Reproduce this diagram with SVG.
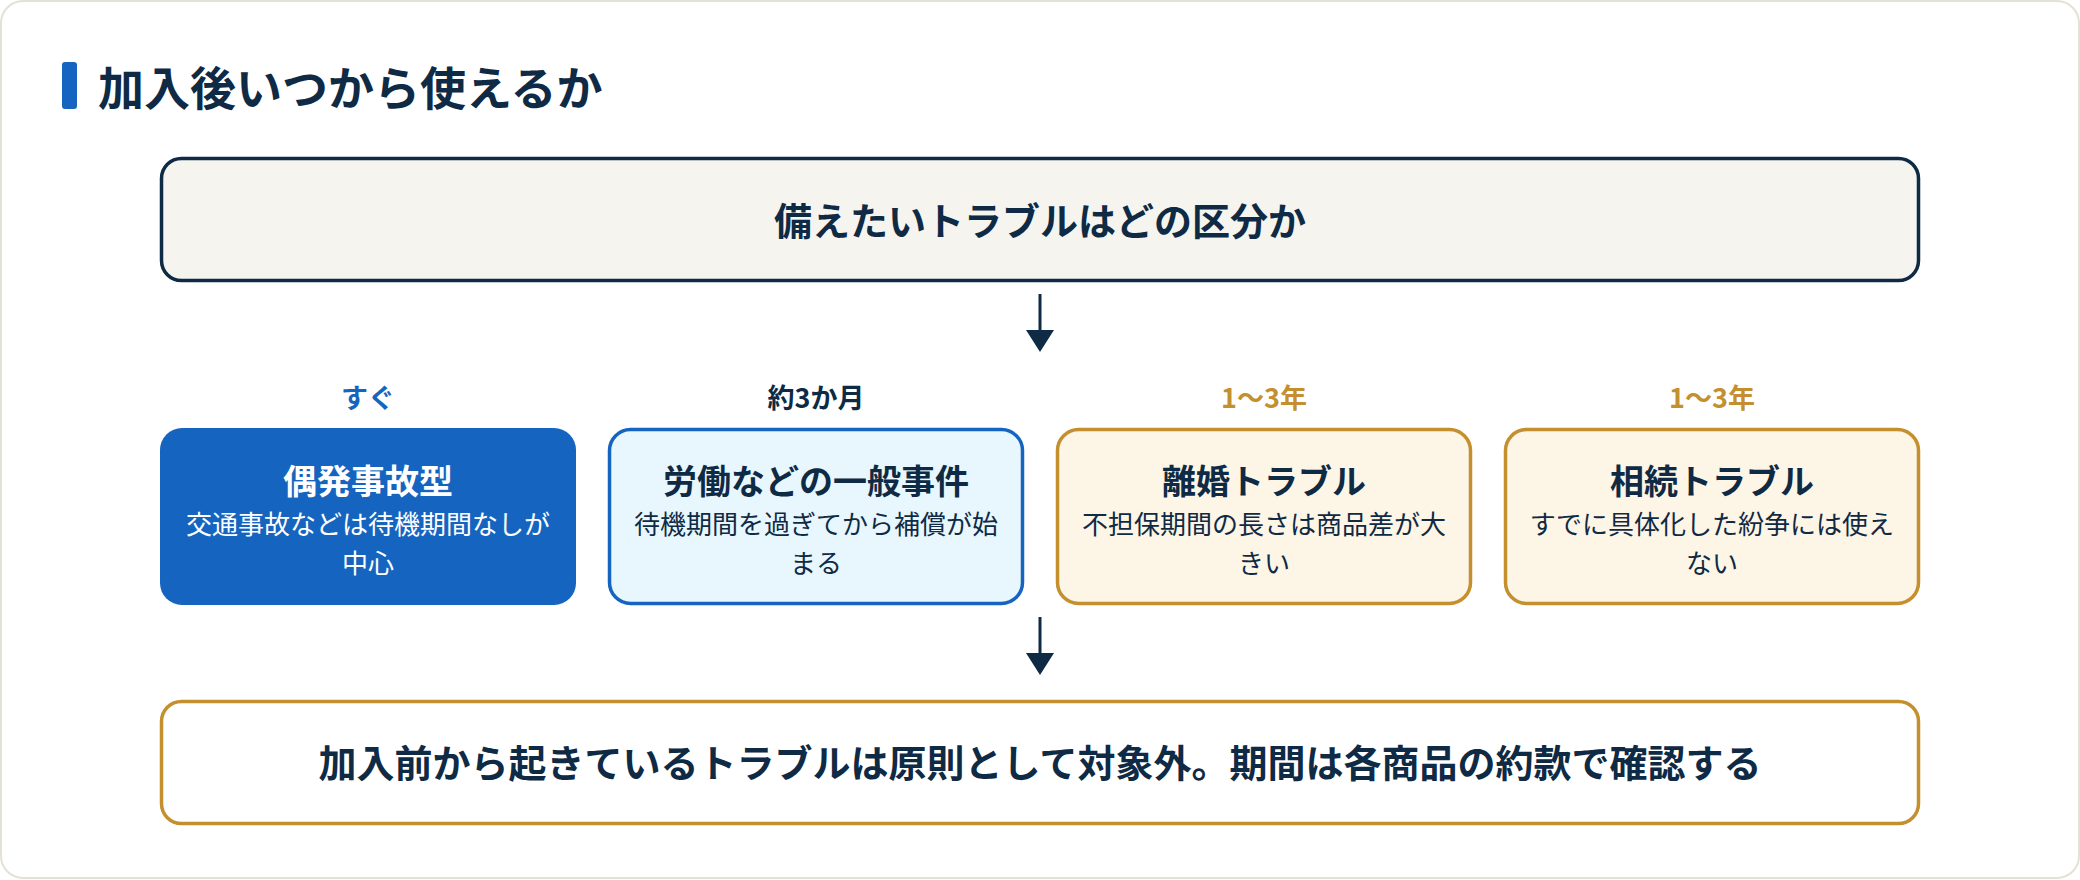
<svg xmlns="http://www.w3.org/2000/svg" width="2080" height="880" viewBox="0 0 2080 880">
<style>
.t{font-family:"Noto Sans CJK JP","Noto Sans",sans-serif;text-anchor:middle;}
.b{font-weight:700;}
.navy{fill:#0f2a44;}
.h{font-size:34px;font-weight:700;}
.s{font-size:26px;font-weight:400;}
.lab{font-size:27px;font-weight:700;}
.gold{fill:#c4902f;}
.card{stroke-width:3.5;}
</style>
<rect x="1" y="1" width="2078" height="877" rx="22" fill="#ffffff" stroke="#e4e1d5" stroke-width="2"/>
<g id="title">
<rect x="62" y="62" width="15" height="47" rx="3" fill="#1565c0"/>
<text class="t b navy" x="98" y="105" font-size="46" style="text-anchor:start">加入後いつから使えるか</text>
</g>
<g id="question">
<rect class="card" x="161.5" y="158.5" width="1757" height="122" rx="20" fill="#f5f4ef" stroke="#0f2a44"/>
<text class="t b navy" x="1040" y="235" font-size="38">備えたいトラブルはどの区分か</text>
</g>
<g id="connectors" fill="#0f2a44" stroke="#0f2a44">
<line x1="1040" y1="294" x2="1040" y2="332" stroke-width="3"/>
<polygon points="1026,330 1054,330 1040,352" stroke="none"/>
<line x1="1040" y1="617" x2="1040" y2="655" stroke-width="3"/>
<polygon points="1026,653 1054,653 1040,675" stroke="none"/>
</g>
<g id="n1">
<text class="t lab" x="368" y="408" fill="#1565c0">すぐ</text>
<rect x="160" y="428" width="416" height="177" rx="22" fill="#1565c0"/>
<text class="t h" x="368" y="494" fill="#ffffff">偶発事故型</text>
<text class="t s" x="368" y="534" fill="#ffffff">交通事故などは待機期間なしが</text>
<text class="t s" x="368" y="573" fill="#ffffff">中心</text>
</g>
<g id="n2">
<text class="t lab navy" x="816" y="408">約3か月</text>
<rect class="card" x="609.5" y="429.5" width="413" height="174" rx="21" fill="#e8f6fd" stroke="#1565c0"/>
<text class="t h navy" x="816" y="494">労働などの一般事件</text>
<text class="t s navy" x="816" y="534">待機期間を過ぎてから補償が始</text>
<text class="t s navy" x="816" y="573">まる</text>
</g>
<g id="n3">
<text class="t lab gold" x="1264" y="408">1〜3年</text>
<rect class="card" x="1057.5" y="429.5" width="413" height="174" rx="21" fill="#fdf5e6" stroke="#c4902f"/>
<text class="t h navy" x="1264" y="494">離婚トラブル</text>
<text class="t s navy" x="1264" y="534">不担保期間の長さは商品差が大</text>
<text class="t s navy" x="1264" y="573">きい</text>
</g>
<g id="n4">
<text class="t lab gold" x="1712" y="408">1〜3年</text>
<rect class="card" x="1505.5" y="429.5" width="413" height="174" rx="21" fill="#fdf5e6" stroke="#c4902f"/>
<text class="t h navy" x="1712" y="494">相続トラブル</text>
<text class="t s navy" x="1712" y="534">すでに具体化した紛争には使え</text>
<text class="t s navy" x="1712" y="573">ない</text>
</g>
<g id="note">
<rect class="card" x="161.5" y="701.5" width="1757" height="122" rx="20" fill="#ffffff" stroke="#c4902f"/>
<text class="t b navy" x="1040" y="777" font-size="38">加入前から起きているトラブルは原則として対象外。期間は各商品の約款で確認する</text>
</g>
</svg>
